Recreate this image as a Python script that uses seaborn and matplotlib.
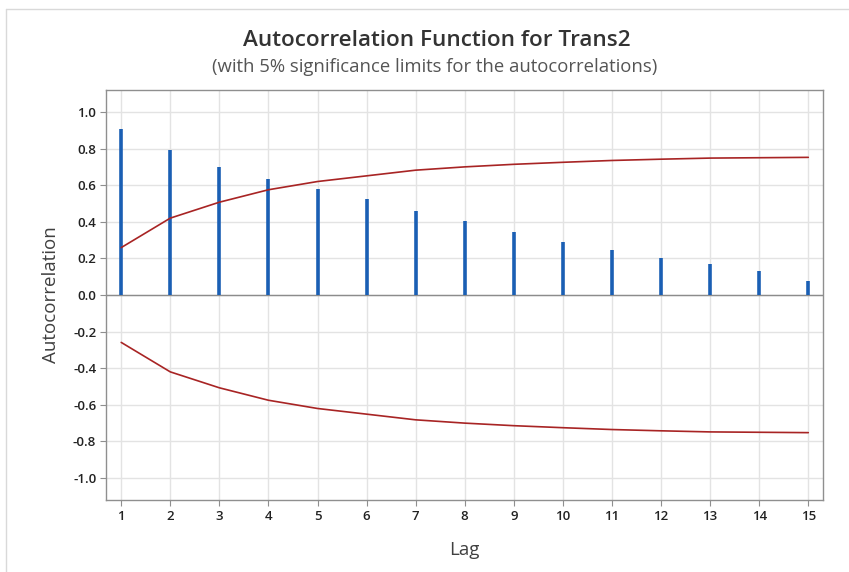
import matplotlib
matplotlib.use("Agg")
import matplotlib.pyplot as plt
import seaborn as sns
import pandas as pd
from matplotlib.lines import Line2D

lags = list(range(1, 16))
acf = [0.907, 0.794, 0.699, 0.633, 0.578, 0.527, 0.458, 0.405, 0.345, 0.29, 0.246, 0.203, 0.17, 0.13, 0.077]
upper = [0.259, 0.42, 0.507, 0.575, 0.62, 0.651, 0.682, 0.70, 0.714, 0.725, 0.735, 0.742, 0.748, 0.750, 0.752]
lower = [-v for v in upper]
yticks = [-1.0, -0.8, -0.6, -0.4, -0.2, 0.0, 0.2, 0.4, 0.6, 0.8, 1.0]

sns.set_theme(style="whitegrid")
plt.rcParams['font.family'] = ['Open Sans', 'DejaVu Sans']

fig = plt.figure(figsize=(8.49, 5.72), dpi=100)
ax = fig.add_axes([106/849, 1-500/572, (823-106)/849, (500-90)/572])

df = pd.DataFrame({"Lag": lags, "ACF": acf, "Upper": upper, "Lower": lower})

ax.axhline(0, color="#8c8c8c", lw=1.0, zorder=2)
ax.vlines(df["Lag"], 0, df["ACF"], color="#1a5fb4", lw=2.6, zorder=3)
sns.lineplot(data=df, x="Lag", y="Upper", ax=ax, color="#a82424", lw=1.2, zorder=4)
sns.lineplot(data=df, x="Lag", y="Lower", ax=ax, color="#a82424", lw=1.2, zorder=4)

ax.set_xlim(0.69, 15.3)
ax.set_ylim(-1.12, 1.12)
ax.set_xticks(lags)
ax.set_yticks(yticks)
ax.set_yticklabels([f"{v:.1f}" for v in yticks])
ax.grid(True, color="#e3e3e3", lw=1.0)
ax.set_axisbelow(True)
for s in ax.spines.values():
    s.set_color("#8f8f8f")
    s.set_linewidth(1.0)
ax.tick_params(axis="both", which="both", length=4, width=0.8, color="#8f8f8f",
               labelsize=9.5, labelcolor="#222222", pad=3, left=True, bottom=True)
for lab in ax.get_xticklabels() + ax.get_yticklabels():
    lab.set_fontweight("semibold")

ax.set_xlabel("Lag", fontsize=13.5, color="#404040", labelpad=13)
ax.set_ylabel("Autocorrelation", fontsize=13.5, color="#404040", labelpad=9)

fig.text(437/849, 1-40/572, "Autocorrelation Function for Trans2", ha="center", va="center",
         fontsize=16.2, fontweight="semibold", color="#333333")
fig.text(435/849, 1-67/572, "(with 5% significance limits for the autocorrelations)", ha="center",
         va="center", fontsize=13.3, color="#555555")

fig.add_artist(Line2D([6/849, 1], [1-9/572, 1-9/572], transform=fig.transFigure, color="#d9d9d9", lw=1))
fig.add_artist(Line2D([6/849, 6/849], [0, 1-9/572], transform=fig.transFigure, color="#d9d9d9", lw=1))

fig.savefig("out.png", dpi=100)
